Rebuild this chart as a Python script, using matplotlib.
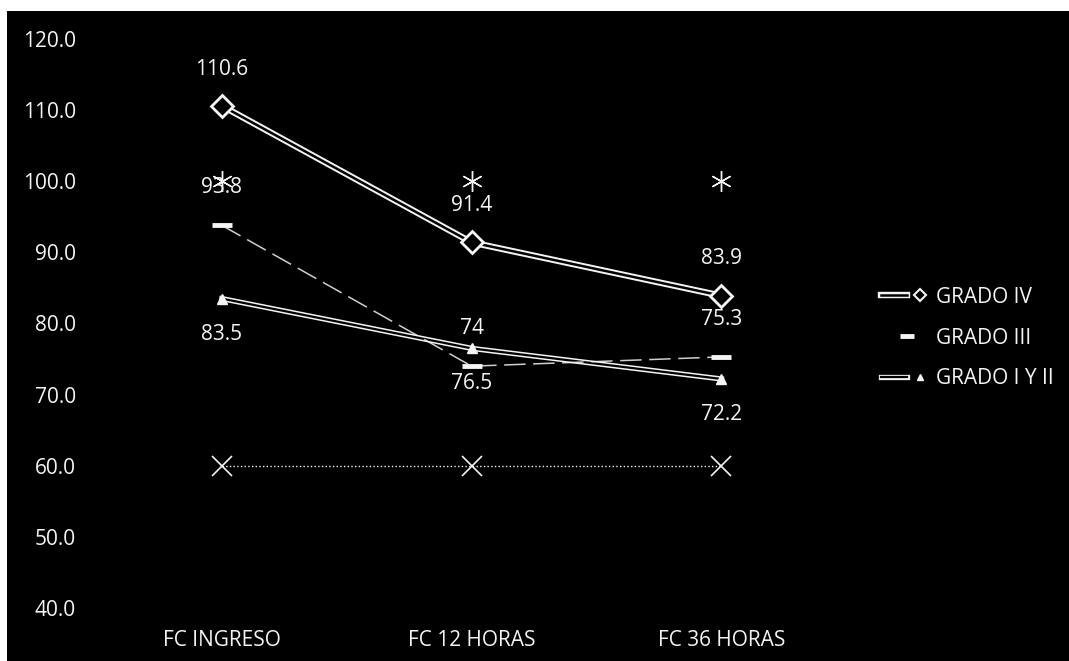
import matplotlib
matplotlib.use("Agg")
import matplotlib.pyplot as plt
import matplotlib.patheffects as pe
from matplotlib.patches import Rectangle
from matplotlib.lines import Line2D
from matplotlib.legend_handler import HandlerTuple

plt.rcParams['font.family'] = ['Open Sans', 'DejaVu Sans']

categories = ["FC INGRESO", "FC 12 HORAS", "FC 36 HORAS"]
grado_iv = [110.6, 91.4, 83.9]
grado_iii = [93.8, 74, 75.3]
grado_i_ii = [83.5, 76.5, 72.2]
limite_sup = [100, 100, 100]
limite_inf = [60, 60, 60]
y_ticks = [40, 50, 60, 70, 80, 90, 100, 110, 120]

FG = "#f4f4f4"
FS = 15

fig = plt.figure(figsize=(10.69, 6.61), dpi=100)
fig.patch.set_facecolor("white")
fig.add_artist(Rectangle((7 / 1069, 0), 1, 1 - 11 / 661,
                         transform=fig.transFigure, facecolor="black",
                         edgecolor="none", zorder=0))

ax = fig.add_axes([0.0907, 0.0802, 0.7010, 0.8608])
ax.set_facecolor("none")
x = list(range(len(categories)))

# hollow "double" lines: white stroke with a black core
dbl_iv = [pe.Stroke(linewidth=4.6, foreground=FG), pe.Normal()]
dbl_12 = [pe.Stroke(linewidth=3.8, foreground=FG), pe.Normal()]

# reference limits of heart rate (60 and 100)
ax.plot(x, limite_sup, linestyle="none", marker=(6, 2, 0), markersize=15,
        markeredgewidth=1.0, color=FG, zorder=2)
ax.plot(x, limite_inf, linestyle=":", linewidth=1.0, color=FG,
        marker="x", markersize=14, markeredgewidth=1.2, zorder=2)

l12, = ax.plot(x, grado_i_ii, color="black", linewidth=1.6,
               path_effects=dbl_12, zorder=3)
ax.plot(x, grado_i_ii, linestyle="none", marker="^", markersize=7,
        color=FG, zorder=4)

ax.plot(x, grado_iii, color=FG, linewidth=1.1, alpha=0.85,
        dashes=(14, 5), zorder=3)
ax.plot(x, grado_iii, linestyle="none", marker="_", markersize=14,
        markeredgewidth=3.5, color=FG, zorder=4)

l4, = ax.plot(x, grado_iv, color="black", linewidth=1.8,
              path_effects=dbl_iv, zorder=5)
ax.plot(x, grado_iv, linestyle="none", marker="D", markersize=11,
        markerfacecolor="black", markeredgecolor=FG,
        markeredgewidth=2, zorder=6)

def fmt(v):
    return f"{v:g}"

for xi, v in zip(x, grado_iv):
    ax.annotate(fmt(v), (xi, v), xytext=(0, 26.5), textcoords="offset points",
                ha="center", va="center", color=FG, fontsize=FS, zorder=7)
for xi, v in zip(x, grado_iii):
    ax.annotate(fmt(v), (xi, v), xytext=(0, 27), textcoords="offset points",
                ha="center", va="center", color=FG, fontsize=FS, zorder=7)
for xi, v in zip(x, grado_i_ii):
    ax.annotate(fmt(v), (xi, v), xytext=(0, -25.5), textcoords="offset points",
                ha="center", va="center", color=FG, fontsize=FS, zorder=7)

ax.set_xlim(-0.5, len(categories) - 0.5)
ax.set_ylim(40, 120)
ax.set_xticks(x)
ax.set_xticklabels(categories)
ax.set_yticks(y_ticks)
ax.set_yticklabels([f"{t:.1f}" for t in y_ticks])
ax.tick_params(axis="both", length=0, colors=FG, labelsize=FS)
ax.tick_params(axis="y", pad=15)
ax.tick_params(axis="x", pad=16)
for s in ax.spines.values():
    s.set_visible(False)

# legend proxies with smaller markers
lg4 = Line2D([], [], linestyle="none", marker="D", markersize=6,
             markerfacecolor="black", markeredgecolor=FG, markeredgewidth=1.5)
lg3 = Line2D([], [], linestyle="none", marker="_", markersize=10,
             markeredgewidth=3.5, color=FG)
lg12 = Line2D([], [], linestyle="none", marker="^", markersize=5, color=FG)
leg = fig.legend([(l4, lg4), lg3, (l12, lg12)],
                 ["GRADO IV", "GRADO III", "GRADO I Y II"],
                 handler_map={tuple: HandlerTuple(ndivide=None)},
                 loc="center left", bbox_to_anchor=(881 / 1069, 1 - 338 / 661),
                 frameon=False, fontsize=FS, labelcolor=FG, numpoints=1,
                 handlelength=2.5, handletextpad=0.15, labelspacing=0.95,
                 borderaxespad=0, borderpad=0)

fig.savefig("out.png", dpi=100, facecolor="white")
